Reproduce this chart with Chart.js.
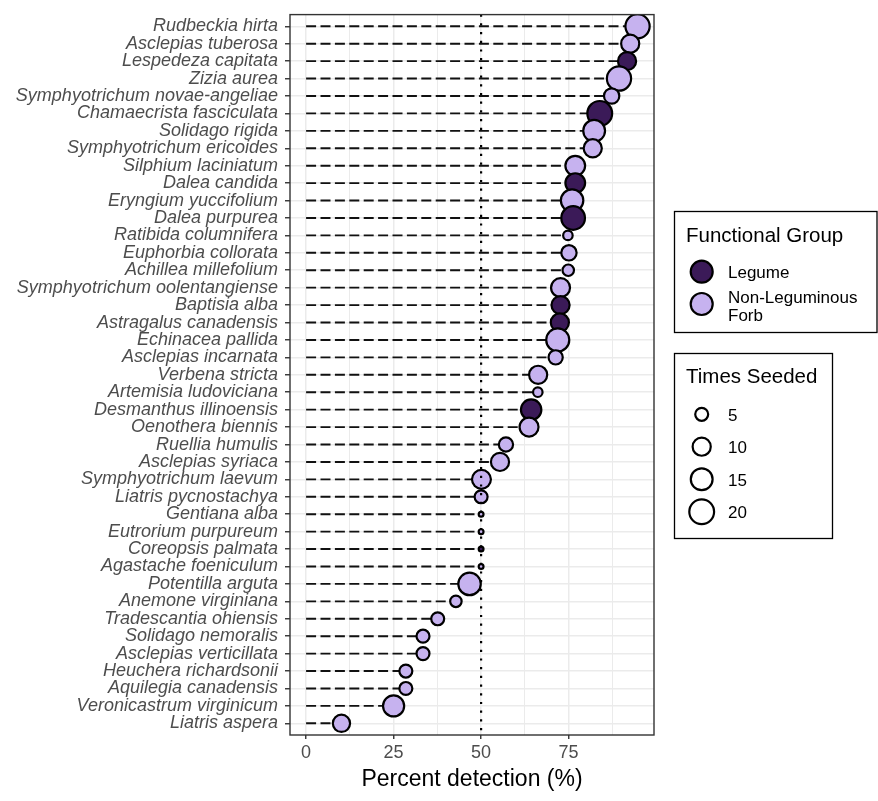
<!DOCTYPE html>
<html>
<head>
<meta charset="utf-8">
<script src="https://cdn.jsdelivr.net/npm/chart.js@4"></script>
<style>
  html, body { margin: 0; padding: 0; background: #ffffff; }
  #wrap { position: relative; width: 878px; height: 801px; }
</style>
</head>
<body>
<div id="wrap"><canvas id="chart"></canvas></div>
<script>
// Species, ordered top to bottom
const species = [
  'Rudbeckia hirta', 'Asclepias tuberosa', 'Lespedeza capitata', 'Zizia aurea',
  'Symphyotrichum novae-angeliae', 'Chamaecrista fasciculata', 'Solidago rigida',
  'Symphyotrichum ericoides', 'Silphium laciniatum', 'Dalea candida',
  'Eryngium yuccifolium', 'Dalea purpurea', 'Ratibida columnifera',
  'Euphorbia collorata', 'Achillea millefolium', 'Symphyotrichum oolentangiense',
  'Baptisia alba', 'Astragalus canadensis', 'Echinacea pallida',
  'Asclepias incarnata', 'Verbena stricta', 'Artemisia ludoviciana',
  'Desmanthus illinoensis', 'Oenothera biennis', 'Ruellia humulis',
  'Asclepias syriaca', 'Symphyotrichum laevum', 'Liatris pycnostachya',
  'Gentiana alba', 'Eutrorium purpureum', 'Coreopsis palmata',
  'Agastache foeniculum', 'Potentilla arguta', 'Anemone virginiana',
  'Tradescantia ohiensis', 'Solidago nemoralis', 'Asclepias verticillata',
  'Heuchera richardsonii', 'Aquilegia canadensis', 'Veronicastrum virginicum',
  'Liatris aspera'
];

// Percent detection per species
const detection = [
  94.7, 92.6, 91.7, 89.4, 87.3, 83.9, 82.3, 81.9, 76.9, 76.9,
  76.0, 76.3, 74.8, 75.1, 74.9, 72.7, 72.7, 72.5, 71.9, 71.3,
  66.3, 66.2, 64.3, 63.7, 57.1, 55.4, 50.1, 50.0, 50.0, 50.0,
  50.0, 50.0, 46.7, 42.8, 37.6, 33.4, 33.4, 28.5, 28.5, 25.0,
  10.1
];

// Number of times each species was seeded
const timesSeeded = [
  19, 10, 10, 19, 7, 20, 15, 10, 12, 12,
  16, 18, 3, 7, 4, 11, 10, 10, 17, 6,
  10, 3, 13, 11, 6, 10, 11, 5, 2, 2,
  2, 2, 16, 4, 5, 5, 5, 5, 5, 14,
  9
];

// Functional group: L = Legume, F = Non-Leguminous Forb
const group = [
  'F', 'F', 'L', 'F', 'F', 'L', 'F', 'F', 'F', 'L',
  'F', 'L', 'F', 'F', 'F', 'F', 'L', 'L', 'F', 'F',
  'F', 'F', 'L', 'F', 'F', 'F', 'F', 'F', 'F', 'F',
  'L', 'F', 'F', 'F', 'F', 'F', 'F', 'F', 'F', 'F',
  'F'
];

const xTickLabels = [0, 25, 50, 75];
const groupLabels = ['Legume', 'Non-Leguminous Forb'];
const sizeBreaks = [5, 10, 15, 20];
const referenceLine = 50;

const FILL = { L: '#3b1a58', F: '#c6b2ef' };
const FONT = "'Liberation Sans', Arial, Helvetica, sans-serif";
const STROKE_W = 2.2;

// Outer diameter of a marker from the times-seeded count (area scale)
function outerDiameter(n) {
  const t = Math.max(n - 2, 0) / 18;
  return 7 + 20 * Math.sqrt(t);
}
function markerRadius(n) {
  return (outerDiameter(n) - STROKE_W) / 2;
}

const rows = species.map((_, i) => i);
const yMin = -0.67, yMax = species.length - 1 + 0.67;

// Dashed guide from zero out to each species' value
const guideSets = rows.map(i => ({
  type: 'line',
  data: [{ x: 0, y: i }, { x: detection[i], y: i }],
  borderColor: '#111111',
  borderWidth: 1.9,
  borderDash: [10, 4.4],
  pointRadius: 0,
  fill: false,
  order: 2
}));

const pointSet = {
  type: 'scatter',
  data: rows.map(i => ({ x: detection[i], y: i })),
  pointRadius: ctx => markerRadius(timesSeeded[ctx.dataIndex]),
  pointHoverRadius: ctx => markerRadius(timesSeeded[ctx.dataIndex]),
  pointBackgroundColor: ctx => FILL[group[ctx.dataIndex]],
  pointBorderColor: '#000000',
  pointBorderWidth: STROKE_W,
  pointHoverBorderWidth: STROKE_W,
  order: 1
};

const refSet = {
  type: 'line',
  data: [{ x: referenceLine, y: yMin }, { x: referenceLine, y: yMax }],
  borderColor: '#000000',
  borderWidth: 2.2,
  borderDash: [2.2, 6.5],
  pointRadius: 0,
  fill: false,
  order: 0
};

// Panel frame and the two legends at the right
const decor = {
  id: 'decor',
  afterDatasetsDraw(chart) {
    const { ctx, chartArea: a } = chart;
    ctx.save();
    ctx.strokeStyle = '#333333';
    ctx.lineWidth = 1.4;
    ctx.strokeRect(a.left, a.top, a.right - a.left, a.bottom - a.top);
    ctx.restore();
  },
  afterDraw(chart) {
    const ctx = chart.ctx;
    ctx.save();
    ctx.strokeStyle = '#000000';
    ctx.lineWidth = 1.3;
    ctx.textAlign = 'left';
    ctx.textBaseline = 'alphabetic';
    ctx.fillStyle = '#000000';

    // Functional Group legend
    ctx.strokeRect(674.5, 211.5, 202.5, 121);
    ctx.font = '20.5px ' + FONT;
    ctx.fillText('Functional Group', 686, 241.5);
    const keyY = [271.7, 304];
    ['L', 'F'].forEach((g, k) => {
      ctx.beginPath();
      ctx.arc(701.7, keyY[k], 11, 0, Math.PI * 2);
      ctx.fillStyle = FILL[g];
      ctx.fill();
      ctx.lineWidth = STROKE_W;
      ctx.strokeStyle = '#000000';
      ctx.stroke();
    });
    ctx.fillStyle = '#000000';
    ctx.font = '17px ' + FONT;
    ctx.fillText(groupLabels[0], 728, 278.3);
    const parts = groupLabels[1].split(' ');
    ctx.fillText(parts.slice(0, 1).join(' '), 728, 302.7);
    ctx.fillText(parts.slice(1).join(' '), 728, 321);

    // Times Seeded legend
    ctx.lineWidth = 1.3;
    ctx.strokeRect(674.5, 353.5, 158, 185);
    ctx.font = '20.5px ' + FONT;
    ctx.fillText('Times Seeded', 686, 382.7);
    const sizeY = [414.3, 446.7, 479.3, 511.7];
    ctx.font = '17px ' + FONT;
    sizeBreaks.forEach((n, k) => {
      ctx.beginPath();
      ctx.arc(701.7, sizeY[k], markerRadius(n), 0, Math.PI * 2);
      ctx.fillStyle = '#ffffff';
      ctx.fill();
      ctx.lineWidth = STROKE_W;
      ctx.strokeStyle = '#000000';
      ctx.stroke();
      ctx.fillStyle = '#000000';
      ctx.fillText(String(n), 728, sizeY[k] + 6.2);
    });
    ctx.restore();
  }
};

new Chart(document.getElementById('chart'), {
  data: { datasets: [...guideSets, pointSet, refSet] },
  options: {
    responsive: true,
    maintainAspectRatio: false,
    animation: false,
    events: [],
    layout: { padding: { left: 0, top: 13, right: 224, bottom: 0 } },
    plugins: { legend: { display: false }, tooltip: { enabled: false } },
    scales: {
      x: {
        type: 'linear',
        min: -4.6,
        max: 99.4,
        afterBuildTicks: s => {
          const t = [];
          for (let v = 0; v <= 87.5; v += 12.5) t.push({ value: v });
          s.ticks = t;
        },
        afterFit: s => {
          s.height = 66;
          s.paddingLeft = 0;
          s.paddingRight = 0;
        },
        border: { display: false },
        grid: {
          color: '#ebebeb',
          lineWidth: c => (c.tick && xTickLabels.includes(c.tick.value)) ? 1.5 : 1,
          drawTicks: true,
          tickLength: 4,
          tickColor: c => (c.tick && xTickLabels.includes(c.tick.value)) ? '#333333' : 'rgba(0,0,0,0)',
          tickWidth: 1.4
        },
        ticks: {
          autoSkip: false,
          maxRotation: 0,
          padding: 3,
          color: '#4d4d4d',
          font: { size: 18, family: FONT },
          callback: v => xTickLabels.includes(v) ? String(v) : ''
        },
        title: {
          display: true,
          text: 'Percent detection (%)',
          color: '#000000',
          font: { size: 23, family: FONT },
          padding: { top: 0, bottom: 7.5 }
        }
      },
      y: {
        type: 'linear',
        reverse: true,
        min: yMin,
        max: yMax,
        afterBuildTicks: s => { s.ticks = rows.map(i => ({ value: i })); },
        afterFit: s => {
          s.width = 290;
          s.paddingTop = 0;
          s.paddingBottom = 0;
        },
        border: { display: false },
        grid: {
          color: '#ebebeb',
          lineWidth: 1.5,
          drawTicks: true,
          tickLength: 5,
          tickColor: '#333333',
          tickWidth: 1.4
        },
        ticks: {
          autoSkip: false,
          padding: 7,
          color: '#4d4d4d',
          font: { size: 18, family: FONT, style: 'italic' },
          callback: v => species[v]
        }
      }
    }
  },
  plugins: [decor]
});
</script>
</body>
</html>
